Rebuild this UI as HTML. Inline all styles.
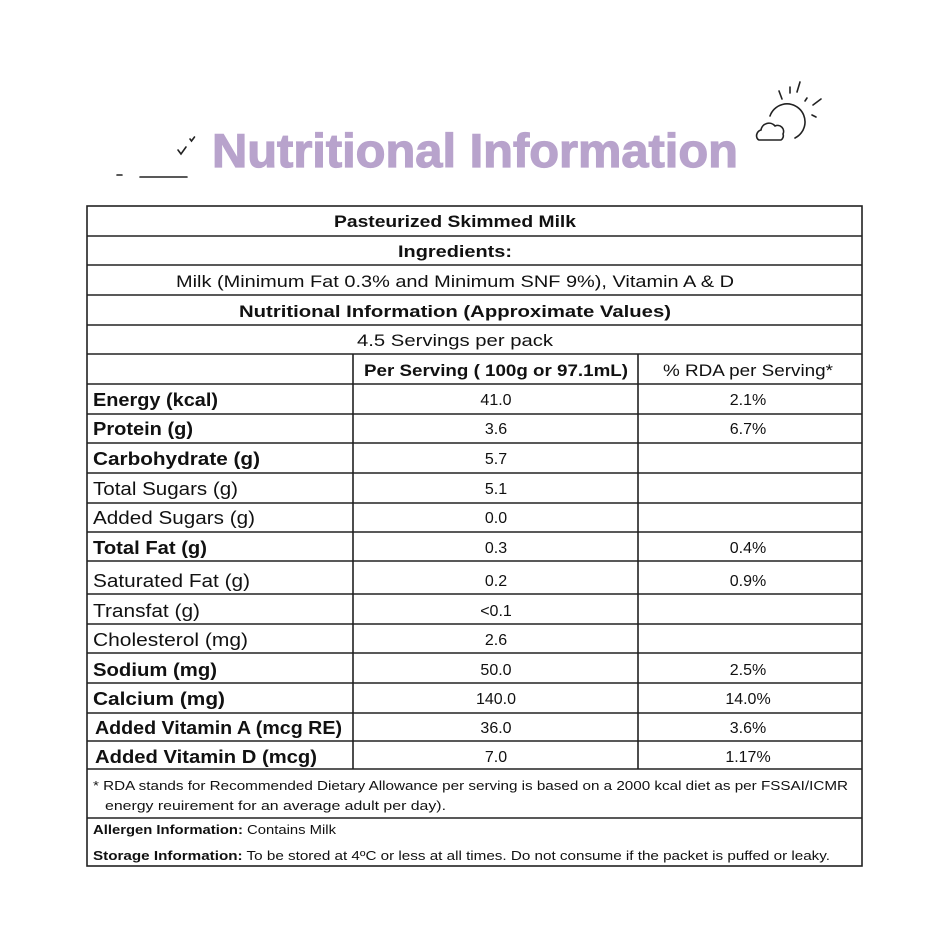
<!DOCTYPE html>
<html><head><meta charset="utf-8"><style>
html,body{margin:0;padding:0;background:#fff;}
svg{display:block;}
text{font-family:"Liberation Sans",sans-serif;fill:#111;}
.b{font-weight:bold;}
</style></head><body>
<svg width="940" height="940" viewBox="0 0 940 940">
<rect width="940" height="940" fill="#fff"/>
<!-- title -->
<text x="212" y="167" font-size="47" font-weight="bold" style="fill:#b8a3cc;stroke:#b8a3cc;stroke-width:1.2" textLength="526" lengthAdjust="spacingAndGlyphs">Nutritional Information</text>
<!-- doodles -->
<g stroke="#222" stroke-width="1.6" fill="none" stroke-linecap="round">
<path d="M178 150 l3 4 l5 -7"/><path d="M190 139 l1.5 2 l3 -4"/>
<path d="M117 175 h5"/><path d="M140 177 h47"/>
<path d="M779 91 l3 8"/><path d="M790 87 v6"/><path d="M800 82 l-3 10"/><path d="M805 101 l2 -3"/><path d="M813 105 l8 -6"/><path d="M812 115 l4 2"/>
<path d="M770 116 a18 18 0 1 1 25 22"/>
<path d="M757 138 a6 6 0 0 1 4 -8 a8 8 0 0 1 14 -4 a6 6 0 0 1 8 8 a5 5 0 0 1 -2 6 h-22 a4 4 0 0 1 -2 -2 z"/>
</g>
<!-- table lines -->
<g stroke="#222" stroke-width="1.6">
<rect x="87" y="206" width="775" height="660" fill="none"/>
<line x1="87" y1="236" x2="862" y2="236"/>
<line x1="87" y1="265" x2="862" y2="265"/>
<line x1="87" y1="295" x2="862" y2="295"/>
<line x1="87" y1="325" x2="862" y2="325"/>
<line x1="87" y1="354" x2="862" y2="354"/>
<line x1="87" y1="384" x2="862" y2="384"/>
<line x1="87" y1="414" x2="862" y2="414"/>
<line x1="87" y1="443" x2="862" y2="443"/>
<line x1="87" y1="473" x2="862" y2="473"/>
<line x1="87" y1="503" x2="862" y2="503"/>
<line x1="87" y1="532" x2="862" y2="532"/>
<line x1="87" y1="561" x2="862" y2="561"/>
<line x1="87" y1="594" x2="862" y2="594"/>
<line x1="87" y1="624" x2="862" y2="624"/>
<line x1="87" y1="653" x2="862" y2="653"/>
<line x1="87" y1="683" x2="862" y2="683"/>
<line x1="87" y1="713" x2="862" y2="713"/>
<line x1="87" y1="741" x2="862" y2="741"/>
<line x1="87" y1="769" x2="862" y2="769"/>
<line x1="87" y1="818" x2="862" y2="818"/>
<line x1="353" y1="354" x2="353" y2="769"/>
<line x1="638" y1="354" x2="638" y2="769"/>
</g>
<!-- header rows -->
<g text-anchor="middle" font-size="17">
<text x="455" y="227" class="b" textLength="242" lengthAdjust="spacingAndGlyphs">Pasteurized Skimmed Milk</text>
<text x="455" y="257" class="b" textLength="114" lengthAdjust="spacingAndGlyphs">Ingredients:</text>
<text x="455" y="287" textLength="558" lengthAdjust="spacingAndGlyphs">Milk (Minimum Fat 0.3% and Minimum SNF 9%), Vitamin  A &amp; D</text>
<text x="455" y="317" class="b" textLength="432" lengthAdjust="spacingAndGlyphs">Nutritional Information (Approximate Values)</text>
<text x="455" y="346" textLength="196" lengthAdjust="spacingAndGlyphs">4.5 Servings per pack</text>
<text x="496" y="376" class="b" textLength="264" lengthAdjust="spacingAndGlyphs">Per Serving ( 100g or 97.1mL)</text>
<text x="748" y="376" textLength="170" lengthAdjust="spacingAndGlyphs">% RDA per Serving*</text>
</g>
<!-- left labels -->
<g font-size="18">
<text x="93" y="406" class="b" textLength="125" lengthAdjust="spacingAndGlyphs">Energy (kcal)</text>
<text x="93" y="435" class="b" textLength="100" lengthAdjust="spacingAndGlyphs">Protein (g)</text>
<text x="93" y="465" class="b" textLength="167" lengthAdjust="spacingAndGlyphs">Carbohydrate (g)</text>
<text x="93" y="495" textLength="145" lengthAdjust="spacingAndGlyphs">Total Sugars (g)</text>
<text x="93" y="524" textLength="162" lengthAdjust="spacingAndGlyphs">Added Sugars (g)</text>
<text x="93" y="554" class="b" textLength="114" lengthAdjust="spacingAndGlyphs">Total Fat (g)</text>
<text x="93" y="587" textLength="157" lengthAdjust="spacingAndGlyphs">Saturated Fat (g)</text>
<text x="93" y="617" textLength="107" lengthAdjust="spacingAndGlyphs">Transfat (g)</text>
<text x="93" y="646" textLength="155" lengthAdjust="spacingAndGlyphs">Cholesterol (mg)</text>
<text x="93" y="676" class="b" textLength="124" lengthAdjust="spacingAndGlyphs">Sodium (mg)</text>
<text x="93" y="705" class="b" textLength="132" lengthAdjust="spacingAndGlyphs">Calcium (mg)</text>
<text x="95" y="734" class="b" textLength="247" lengthAdjust="spacingAndGlyphs">Added Vitamin A (mcg RE)</text>
<text x="95" y="763" class="b" textLength="222" lengthAdjust="spacingAndGlyphs">Added Vitamin D (mcg)</text>
</g>
<!-- values -->
<g font-size="16" text-anchor="middle">
<text x="496" y="405">41.0</text><text x="748" y="405">2.1%</text>
<text x="496" y="434">3.6</text><text x="748" y="434">6.7%</text>
<text x="496" y="464">5.7</text>
<text x="496" y="494">5.1</text>
<text x="496" y="523">0.0</text>
<text x="496" y="553">0.3</text><text x="748" y="553">0.4%</text>
<text x="496" y="586">0.2</text><text x="748" y="586">0.9%</text>
<text x="496" y="616">&lt;0.1</text>
<text x="496" y="645">2.6</text>
<text x="496" y="675">50.0</text><text x="748" y="675">2.5%</text>
<text x="496" y="704">140.0</text><text x="748" y="704">14.0%</text>
<text x="496" y="733">36.0</text><text x="748" y="733">3.6%</text>
<text x="496" y="762">7.0</text><text x="748" y="762">1.17%</text>
</g>
<!-- footnotes -->
<g font-size="13">
<text x="93" y="790" textLength="755" lengthAdjust="spacingAndGlyphs">* RDA stands for Recommended Dietary Allowance per serving is based on a 2000 kcal diet as per FSSAI/ICMR</text>
<text x="105" y="810" textLength="341" lengthAdjust="spacingAndGlyphs">energy reuirement for an average adult per day).</text>
<text x="93" y="834" textLength="243" lengthAdjust="spacingAndGlyphs"><tspan class="b">Allergen Information:</tspan> Contains Milk</text>
<text x="93" y="860" textLength="737" lengthAdjust="spacingAndGlyphs"><tspan class="b">Storage Information:</tspan> To be stored at 4ºC or less at all times. Do not consume if the packet is puffed or leaky.</text>
</g>
</svg>
</body></html>
